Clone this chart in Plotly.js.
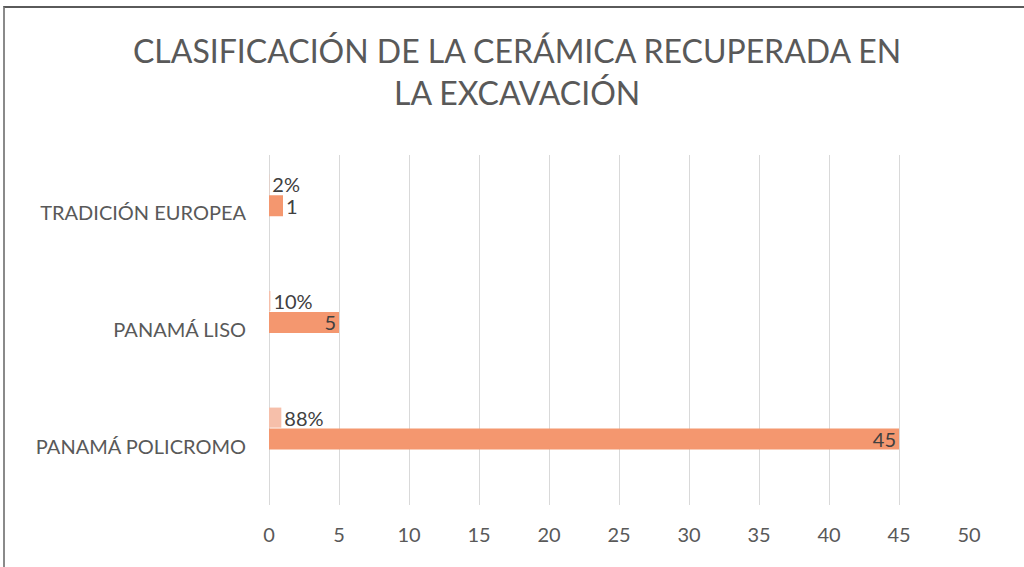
<!DOCTYPE html>
<html>
<head>
<meta charset="utf-8">
<script src="https://cdn.plot.ly/plotly-3.0.1.min.js"></script>
<style>
html,body{margin:0;padding:0;background:#fff;}
#wrap{position:relative;width:1024px;height:567px;overflow:hidden;}
#chart{position:absolute;left:0;top:0;width:1024px;height:567px;}
#frame{position:absolute;left:3px;top:6px;width:1030px;height:570px;border-top:2px solid #5a5a5a;border-left:2px solid #8a8a8a;pointer-events:none;}
</style>
</head>
<body>
<div id="wrap"><div id="chart"></div><div id="frame"></div></div>
<script>
const categories = ['TRADICIÓN EUROPEA', 'PANAMÁ LISO', 'PANAMÁ POLICROMO'];
const counts = [1, 5, 45];
const shares = [0.02, 0.10, 0.88];
const xTicks = [0, 5, 10, 15, 20, 25, 30, 35, 40, 45, 50];

const labelFont = {family: 'Lato, "Noto Sans", sans-serif', size: 20, color: '#404040'};

const traces = [
  {
    type: 'bar', orientation: 'h', name: 'Porcentaje',
    y: categories, x: shares,
    marker: {color: '#F6BFAA'},
    offset: -0.335, width: 0.172,
    texttemplate: '%{x:.0%}', textposition: 'outside', textangle: 0,
    constraintext: 'none', cliponaxis: false,
    textfont: labelFont, outsidetextfont: labelFont,
    hoverinfo: 'x+y'
  },
  {
    type: 'bar', orientation: 'h', name: 'Cantidad',
    y: categories, x: counts,
    marker: {color: '#F4976F'},
    offset: -0.155, width: 0.18,
    text: counts.map(String),
    textposition: counts.map(v => v >= 5 ? 'inside' : 'outside'),
    insidetextanchor: 'end', textangle: 0,
    constraintext: 'none', cliponaxis: false,
    textfont: labelFont, insidetextfont: labelFont, outsidetextfont: labelFont,
    hoverinfo: 'x+y'
  }
];

const layout = {
  width: 1024, height: 567,
  paper_bgcolor: '#ffffff', plot_bgcolor: '#ffffff',
  margin: {l: 269, r: 55, t: 155, b: 62},
  showlegend: false,
  barmode: 'overlay',
  font: {family: 'Lato, "Noto Sans", sans-serif', color: '#595959'},
  title: {
    text: 'CLASIFICACIÓN DE LA CERÁMICA RECUPERADA EN<br>LA EXCAVACIÓN',
    font: {family: 'Lato, "Noto Sans", sans-serif', size: 32, color: '#595959'},
    x: 0.505, xanchor: 'center', xref: 'container',
    y: 0.889, yanchor: 'middle', yref: 'container'
  },
  xaxis: {
    range: [0, 50], tickvals: xTicks, ticktext: xTicks.map(String),
    showgrid: true, gridcolor: '#D9D9D9', gridwidth: 1,
    zeroline: true, zerolinecolor: '#D9D9D9', zerolinewidth: 1,
    showline: false, ticks: '', ticklabelstandoff: 16,
    tickfont: {size: 20, color: '#595959'}, fixedrange: true
  },
  yaxis: {
    type: 'category', categoryorder: 'array', categoryarray: categories,
    autorange: 'reversed',
    showgrid: false, zeroline: false, showline: false, ticks: '',
    ticklabelstandoff: 22,
    tickfont: {size: 20, color: '#595959'}, fixedrange: true
  }
};

Plotly.newPlot('chart', traces, layout, {displayModeBar: false, staticPlot: true});
</script>
</body>
</html>
